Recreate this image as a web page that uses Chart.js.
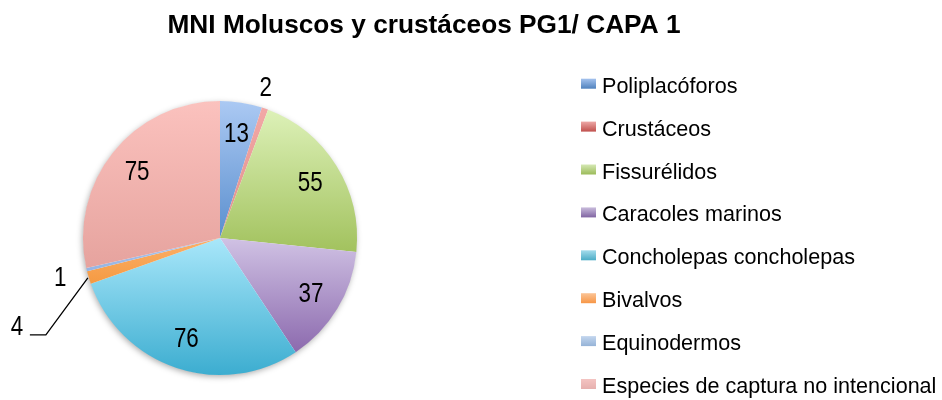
<!DOCTYPE html>
<html>
<head>
<meta charset="utf-8">
<script src="https://cdn.jsdelivr.net/npm/chart.js@4.4.1/dist/chart.umd.min.js"></script>
<style>
  html, body { margin: 0; padding: 0; background: #fff; }
  #wrap { width: 942px; height: 400px; }
</style>
</head>
<body>
<div id="wrap"><canvas id="mniChart" width="942" height="400"></canvas></div>
<script>
// Datos del gráfico
const titulo = 'MNI Moluscos y crustáceos PG1/ CAPA 1';
const categorias = ['Poliplacóforos', 'Crustáceos', 'Fissurélidos', 'Caracoles marinos',
  'Concholepas concholepas', 'Bivalvos', 'Equinodermos', 'Especies de captura no intencional'];
const valores = [13, 2, 55, 37, 76, 4, 1, 75];

// Colores de las porciones (degradado: claro arriba, oscuro abajo)
const claros  = ['#abc9f3', '#f2a8a6', '#ddf1b8', '#d0c2e4', '#a9e7fa', '#fbb06a', '#b0c8ee', '#fbc2be'];
const oscuros = ['#5b8fce', '#e0908c', '#a2c25e', '#8c6aae', '#3cadd0', '#f59a42', '#94b3e2', '#e6a39e'];
// Cuadros de la leyenda
const leyClaros  = ['#a4c2ee', '#eda8a6', '#d5e8b4', '#c9bcdc', '#a4dcec', '#fbc496', '#c3d6ee', '#f4c4c2'];
const leyOscuros = ['#4f81bd', '#c0504d', '#9bbb59', '#8064a2', '#4bacc6', '#f79646', '#95b3d7', '#e6b0ae'];

// Dónde va cada etiqueta: 'dentro', 'fuera' o 'guia' (con línea)
const ubicacion = ['dentro', 'fuera', 'dentro', 'dentro', 'dentro', 'guia', 'fuera', 'dentro'];
// pequeño ajuste en px para las etiquetas de afuera
const ajuste = [[0, 0], [-7, 1], [0, 0], [0, 0], [0, 0], [0, 0], [-3, 2], [0, 0]];

const total = valores.reduce((a, b) => a + b, 0);

function degradado(context) {
  const chart = context.chart;
  const area = chart.chartArea;
  const i = context.dataIndex;
  if (!area || i === undefined) return oscuros[i] || '#ccc';
  const cx = (area.left + area.right) / 2;
  const cy = (area.top + area.bottom) / 2;
  const r = Math.min(area.width, area.height) / 2;
  let a0 = -Math.PI / 2;
  for (let k = 0; k < i; k++) a0 += valores[k] / total * 2 * Math.PI;
  const a1 = a0 + valores[i] / total * 2 * Math.PI;
  const ys = [cy, cy + r * Math.sin(a0), cy + r * Math.sin(a1)];
  let y0 = Math.min(...ys), y1 = Math.max(...ys);
  [-Math.PI / 2, Math.PI / 2, 3 * Math.PI / 2].forEach(a => {
    if (a > a0 && a < a1) {
      if (Math.sin(a) < 0) y0 = cy - r; else y1 = cy + r;
    }
  });
  if (y1 - y0 < 1) y1 = y0 + 1;
  const g = chart.ctx.createLinearGradient(0, y0, 0, y1);
  g.addColorStop(0, claros[i]);
  g.addColorStop(1, oscuros[i]);
  return g;
}

function textoAngosto(ctx, txt, x, y, escala, align) {
  ctx.save();
  ctx.translate(x, y);
  ctx.scale(escala, 1);
  ctx.textAlign = align || 'center';
  ctx.fillText(txt, 0, 0);
  ctx.restore();
}

// Sombra suave bajo el círculo
const sombra = {
  id: 'sombra',
  beforeDatasetsDraw(chart) {
    const arc = chart.getDatasetMeta(0).data[0];
    if (!arc) return;
    const ctx = chart.ctx;
    ctx.save();
    ctx.shadowColor = 'rgba(0,0,0,0.35)';
    ctx.shadowBlur = 6;
    ctx.shadowOffsetX = -1;
    ctx.shadowOffsetY = 2;
    ctx.fillStyle = '#ffffff';
    ctx.beginPath();
    ctx.arc(arc.x, arc.y, arc.outerRadius - 0.5, 0, Math.PI * 2);
    ctx.fill();
    ctx.restore();
  }
};

// Etiquetas de valores
const etiquetas = {
  id: 'etiquetas',
  afterDatasetsDraw(chart) {
    const ctx = chart.ctx;
    const arcs = chart.getDatasetMeta(0).data;
    ctx.save();
    ctx.fillStyle = '#000';
    ctx.font = '28px "Liberation Sans", Arial, sans-serif';
    ctx.textBaseline = 'middle';
    arcs.forEach((arc, i) => {
      const mid = (arc.startAngle + arc.endAngle) / 2;
      const R = arc.outerRadius;
      const txt = String(valores[i]);
      if (ubicacion[i] === 'dentro') {
        const r = R * 0.775;
        textoAngosto(ctx, txt, arc.x + r * Math.cos(mid), arc.y + r * Math.sin(mid) + 1, 0.8);
      } else if (ubicacion[i] === 'fuera') {
        const r = R + 24;
        textoAngosto(ctx, txt, arc.x + r * Math.cos(mid) + ajuste[i][0],
          arc.y + r * Math.sin(mid) + ajuste[i][1] + 1, 0.8);
      } else {
        const px = arc.x + (R + 1) * Math.cos(mid);
        const py = arc.y + (R + 1) * Math.sin(mid);
        const ex = px - 42, ey = py + 57;
        ctx.beginPath();
        ctx.lineWidth = 1.3;
        ctx.strokeStyle = '#000';
        ctx.moveTo(px, py);
        ctx.lineTo(ex, ey);
        ctx.lineTo(ex - 16, ey);
        ctx.stroke();
        textoAngosto(ctx, txt, ex - 29, ey - 8, 0.8);
      }
    });
    ctx.restore();
  }
};

// Título y leyenda
const marco = {
  id: 'marco',
  afterDraw(chart) {
    const ctx = chart.ctx;
    ctx.save();
    ctx.fillStyle = '#000';
    ctx.textBaseline = 'alphabetic';
    ctx.font = 'bold 25px "Liberation Sans", Arial, sans-serif';
    textoAngosto(ctx, titulo, 424, 33, 1.05, 'center');

    ctx.font = '22px "Liberation Sans", Arial, sans-serif';
    categorias.forEach((cat, i) => {
      const yb = 92.7 + 42.9 * i;
      const g = ctx.createLinearGradient(0, yb - 14, 0, yb - 4);
      g.addColorStop(0, leyClaros[i]);
      g.addColorStop(1, leyOscuros[i]);
      ctx.fillStyle = g;
      ctx.fillRect(581, yb - 14, 15, 10);
      ctx.fillStyle = '#000';
      textoAngosto(ctx, cat, 602, yb, 0.98, 'left');
    });
    ctx.restore();
  }
};

new Chart(document.getElementById('mniChart'), {
  type: 'pie',
  data: {
    labels: categorias,
    datasets: [{
      data: valores,
      backgroundColor: degradado,
      borderWidth: 0
    }]
  },
  options: {
    responsive: false,
    animation: false,
    events: [],
    layout: { padding: { left: 83, right: 585, top: 101, bottom: 25 } },
    plugins: {
      legend: { display: false },
      title: { display: false },
      tooltip: { enabled: false }
    }
  },
  plugins: [sombra, etiquetas, marco]
});
</script>
</body>
</html>
